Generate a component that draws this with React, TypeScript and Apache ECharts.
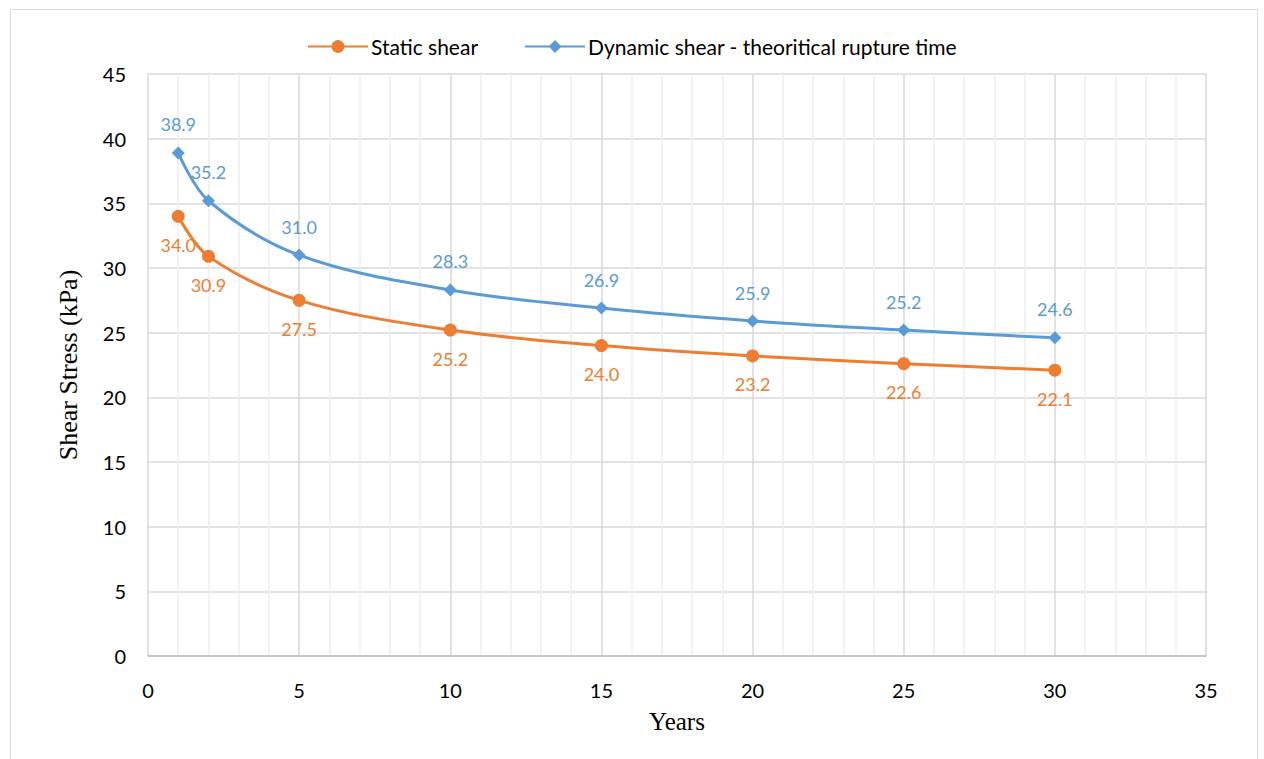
import React, { useEffect, useRef } from "react";
import * as echarts from "echarts";

const years = [1, 2, 5, 10, 15, 20, 25, 30];
const staticShear = [34.0, 30.9, 27.5, 25.2, 24.0, 23.2, 22.6, 22.1];
const dynamicShear = [38.9, 35.2, 31.0, 28.3, 26.9, 25.9, 25.2, 24.6];

const ORANGE = "#ED7D31";
const BLUE = "#5B9BD5";
const LABEL_FONT = "Lato, 'Open Sans', sans-serif";
const TITLE_FONT = "'Liberation Serif', 'DejaVu Serif', serif";

export default function App() {
  const ref = useRef<HTMLDivElement>(null);

  useEffect(() => {
    document.body.style.margin = "0";
    const chart = echarts.init(ref.current!, null, { renderer: "svg" });
    chart.setOption({
      animation: false,
      backgroundColor: "#fff",
      graphic: [
        {
          type: "rect",
          shape: { x: 10.5, y: 9.5, width: 1247, height: 760 },
          style: { fill: "none", stroke: "#d9d9d9", lineWidth: 1 },
          silent: true,
        },
      ],
      legend: {
        top: 31,
        left: "center",
        itemWidth: 60,
        itemHeight: 16,
        itemGap: 46,
        textStyle: { fontFamily: LABEL_FONT, fontSize: 21, color: "#000", padding: [0, 0, 0, -2] },
        data: ["Static shear", "Dynamic shear - theoritical rupture time"],
      },
      grid: { left: 148, right: 58, top: 74, bottom: 103 },
      xAxis: {
        type: "value",
        min: 0,
        max: 35,
        interval: 5,
        name: "Years",
        nameLocation: "middle",
        nameGap: 53,
        nameTextStyle: { fontFamily: TITLE_FONT, fontSize: 25, color: "#000" },
        axisLine: { show: true, lineStyle: { color: "#bfbfbf", width: 1.5 } },
        axisTick: { show: false },
        axisLabel: { margin: 24, fontFamily: LABEL_FONT, fontSize: 20, color: "#000" },
        splitLine: { show: true, lineStyle: { color: "#d9d9d9", width: 1.5 } },
        minorTick: { show: false, splitNumber: 5 },
        minorSplitLine: { show: true, lineStyle: { color: "#eeeeee", width: 1.5 } },
      },
      yAxis: {
        type: "value",
        min: 0,
        max: 45,
        interval: 5,
        name: "Shear Stress (kPa)",
        nameLocation: "middle",
        nameGap: 67,
        nameTextStyle: { fontFamily: TITLE_FONT, fontSize: 26, color: "#000" },
        axisLine: { show: false },
        axisTick: { show: false },
        axisLabel: { margin: 22, fontFamily: LABEL_FONT, fontSize: 20, color: "#000" },
        splitLine: { show: true, lineStyle: { color: "#d9d9d9", width: 1.5 } },
      },
      series: [
        {
          name: "Static shear",
          type: "line",
          smooth: 0.35,
          data: years.map((x, i) => [x, staticShear[i]]),
          symbol: "circle",
          symbolSize: 13,
          itemStyle: { color: ORANGE },
          lineStyle: { color: ORANGE, width: 3 },
          label: {
            show: true,
            position: "bottom",
            distance: 13,
            color: ORANGE,
            fontFamily: LABEL_FONT,
            fontSize: 18,
            formatter: (p: any) => p.value[1].toFixed(1),
          },
          z: 3,
        },
        {
          name: "Dynamic shear - theoritical rupture time",
          type: "line",
          smooth: 0.35,
          data: years.map((x, i) => [x, dynamicShear[i]]),
          symbol: "diamond",
          symbolSize: 13,
          itemStyle: { color: BLUE },
          lineStyle: { color: BLUE, width: 3 },
          label: {
            show: true,
            position: "top",
            distance: 13,
            color: BLUE,
            fontFamily: LABEL_FONT,
            fontSize: 18,
            formatter: (p: any) => p.value[1].toFixed(1),
          },
          z: 4,
        },
      ],
    });
    return () => chart.dispose();
  }, []);

  return (
    <div
      ref={ref}
      style={{ position: "absolute", left: 0, top: 0, width: 1264, height: 759 }}
    />
  );
}
